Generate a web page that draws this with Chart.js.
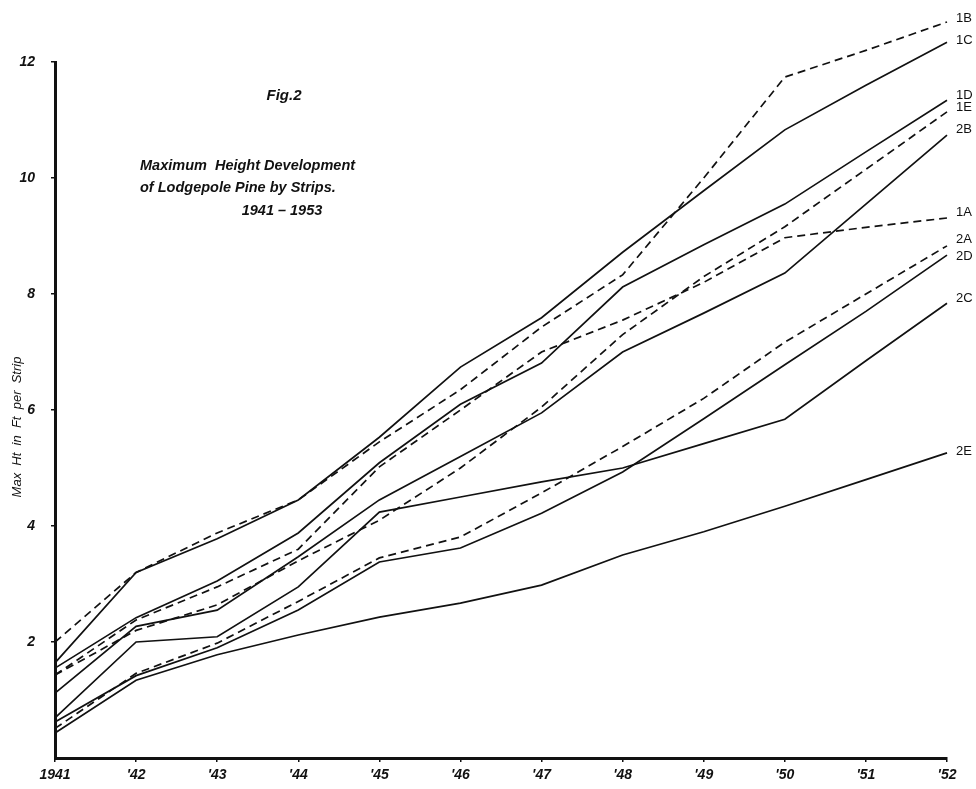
<!DOCTYPE html>
<html lang="en">
<head>
    <meta charset="UTF-8">
    <title>Fig. 2 - Maximum Height Development of Lodgepole Pine by Strips</title>
    <script src="https://cdn.jsdelivr.net/npm/chart.js"></script>
    <style>
        body {
            margin: 0;
            padding: 0;
            background: #fff;
        }

        .chart-container {
            position: relative;
            width: 976px;
            height: 789px;
        }
    </style>
</head>
<body>
    <div class="chart-container">
        <canvas id="heightChart"></canvas>
    </div>

    <script>
        // Year labels on the x axis
        const years = ['1941', "'42", "'43", "'44", "'45", "'46", "'47", "'48", "'49", "'50", "'51", "'52"];

        // Max height (ft) per strip
        const strip1A = [1.43, 2.38, 2.95, 3.60, 5.02, 6.00, 7.00, 7.55, 8.20, 8.97, 9.15, 9.31];
        const strip1B = [2.00, 3.20, 3.88, 4.45, 5.45, 6.35, 7.43, 8.33, 10.00, 11.74, 12.20, 12.69];
        const strip1C = [1.64, 3.20, 3.78, 4.45, 5.53, 6.74, 7.59, 8.72, 9.78, 10.83, 11.60, 12.34];
        const strip1D = [1.55, 2.42, 3.05, 3.88, 5.09, 6.10, 6.81, 8.12, 8.85, 9.55, 10.45, 11.34];
        const strip1E = [1.43, 2.20, 2.64, 3.40, 4.10, 5.00, 6.05, 7.30, 8.30, 9.16, 10.15, 11.14];
        const strip2A = [0.51, 1.46, 1.98, 2.70, 3.45, 3.81, 4.57, 5.37, 6.20, 7.17, 8.00, 8.83];
        const strip2B = [1.12, 2.27, 2.55, 3.47, 4.45, 5.20, 5.95, 7.00, 7.67, 8.36, 9.55, 10.74];
        const strip2C = [0.69, 2.00, 2.09, 2.95, 4.24, 4.50, 4.76, 5.00, 5.42, 5.84, 6.85, 7.84];
        const strip2D = [0.62, 1.42, 1.90, 2.55, 3.38, 3.62, 4.22, 4.93, 5.85, 6.78, 7.70, 8.67];
        const strip2E = [0.43, 1.34, 1.78, 2.12, 2.43, 2.67, 2.98, 3.50, 3.90, 4.34, 4.80, 5.26];

        const strips = ['1A', '1B', '1C', '1D', '1E', '2A', '2B', '2C', '2D', '2E'];
        const stripValues = [strip1A, strip1B, strip1C, strip1D, strip1E, strip2A, strip2B, strip2C, strip2D, strip2E];
        const dashedStrips = ['1A', '1B', '1E', '2A'];

        const yTicks = [2, 4, 6, 8, 10, 12];

        const inkColor = '#111';
        const tickFont = { family: 'Liberation Sans', size: 14, weight: 'bold', style: 'italic' };

        // small vertical nudges so the end labels don't collide
        const labelNudge = { '1B': -4, '1C': -2, '1D': -5, '1E': -4, '2B': -6, '1A': -6, '2A': -6, '2D': 1, '2C': -5, '2E': -1 };

        const textPlugin = {
            id: 'figText',
            afterDraw(chart) {
                const ctx = chart.ctx;
                const xs = chart.scales.x;
                const ys = chart.scales.y;
                ctx.save();
                ctx.fillStyle = inkColor;

                // end-of-line strip labels
                ctx.font = '13px "Liberation Sans"';
                ctx.textAlign = 'left';
                ctx.textBaseline = 'middle';
                const lastIdx = years.length - 1;
                strips.forEach((name, i) => {
                    const vals = stripValues[i];
                    const px = xs.getPixelForValue(lastIdx) + 9;
                    const py = ys.getPixelForValue(vals[lastIdx]) + (labelNudge[name] || 0);
                    ctx.fillText(name, px, py);
                });

                // figure title
                ctx.font = 'italic bold 15px "Liberation Sans"';
                ctx.textAlign = 'center';
                ctx.fillText('Fig.2', 284, 96);
                ctx.textAlign = 'left';
                ctx.font = 'italic bold 14.5px "Liberation Sans"';
                ctx.fillText('Maximum  Height Development', 140, 166);
                ctx.fillText('of Lodgepole Pine by Strips.', 140, 188);
                ctx.textAlign = 'center';
                ctx.fillText('1941 \u2013 1953', 282, 211);

                // y axis title
                ctx.translate(17, 427);
                ctx.rotate(-Math.PI / 2);
                ctx.font = 'italic 13px "Liberation Sans"';
                ctx.fillText('Max  Ht  in  Ft  per  Strip', 0, 0);
                ctx.restore();
            }
        };

        const datasets = strips.map((name, i) => ({
            label: name,
            data: stripValues[i],
            borderColor: inkColor,
            borderWidth: 1.7,
            borderDash: dashedStrips.includes(name) ? [8, 5] : [],
            pointRadius: 0,
            tension: 0,
            fill: false,
            clip: false
        }));

        const ctx = document.getElementById('heightChart').getContext('2d');
        new Chart(ctx, {
            type: 'line',
            data: {
                labels: years,
                datasets: datasets
            },
            options: {
                responsive: true,
                maintainAspectRatio: false,
                animation: false,
                layout: {
                    padding: { top: 62, right: 29, left: 0, bottom: 0 }
                },
                plugins: {
                    legend: { display: false },
                    tooltip: { enabled: false }
                },
                scales: {
                    x: {
                        offset: false,
                        afterFit: (scale) => { scale.height = 31; },
                        border: { color: inkColor, width: 3 },
                        grid: { display: true, drawOnChartArea: false, color: inkColor, tickLength: 4, lineWidth: 1.5 },
                        ticks: { color: inkColor, font: tickFont, padding: 5, maxRotation: 0, autoSkip: false }
                    },
                    y: {
                        min: 0,
                        max: 12,
                        afterFit: (scale) => { scale.width = 55; },
                        afterBuildTicks: (scale) => {
                            scale.ticks = yTicks.map(v => ({ value: v }));
                        },
                        border: { color: inkColor, width: 3 },
                        grid: { display: true, drawOnChartArea: false, color: inkColor, tickLength: 4, lineWidth: 1.5 },
                        ticks: { color: inkColor, font: tickFont, padding: 16 }
                    }
                }
            },
            plugins: [textPlugin]
        });
    </script>
</body>
</html>
